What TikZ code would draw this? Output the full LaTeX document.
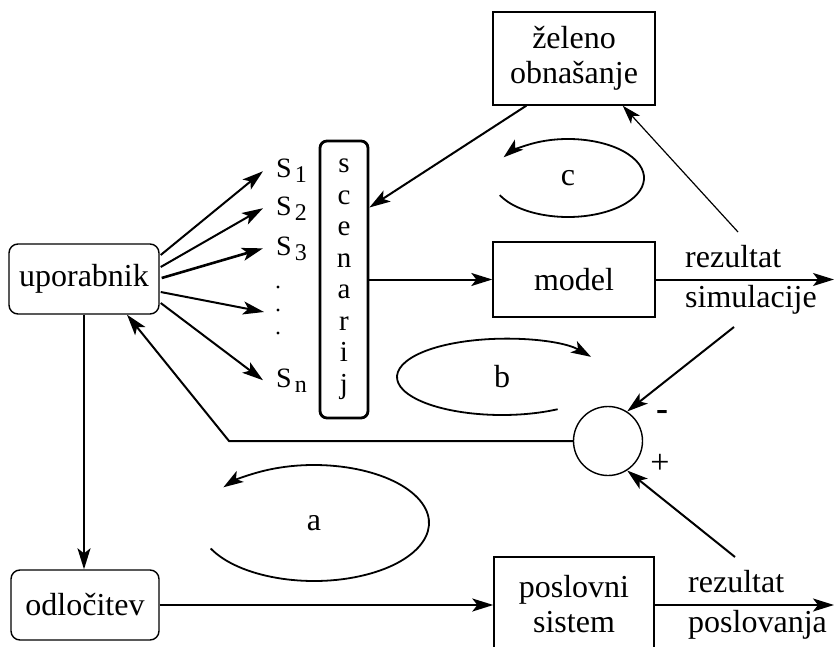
\documentclass[tikz,border=0pt]{standalone}
\usepackage{fontspec}
\setmainfont{Liberation Serif}
\usetikzlibrary{arrows.meta,calc}
\begin{document}
\begin{tikzpicture}[x=1pt,y=-1pt,
  every node/.style={font=\fontsize{32}{35}\selectfont, inner sep=0pt},
  blok/.style={draw, line width=1.4pt},
  zaobljen/.style={blok, rounded corners=9pt},
  tip/.style={-{Stealth[length=21pt,width=13pt,inset=5pt]}},
  conn/.style={tip, line width=2pt},
  tanka/.style={-{Stealth[length=19pt,width=12pt,inset=5pt]}, line width=1.2pt},
  zanka/.style={-{Stealth[length=20pt,width=13pt,inset=5pt]}, line width=1.8pt},
  snode/.style={anchor=base west, inner xsep=13pt, font=\fontsize{28}{30}\selectfont},
  napis/.style={anchor=base west}
]
\useasboundingbox (0,0) rectangle (835,647);
\clip (0,0) rectangle (835,647);

% blocks
\node[zaobljen, minimum width=150, minimum height=70] (upor) at (84,279) {uporabnik};
\node[zaobljen, minimum width=148, minimum height=70] (odl) at (85,605) {odločitev};
\node[blok, line width=2.8pt, rounded corners=7pt, minimum width=48, minimum height=277,
      align=center, font=\fontsize{29}{31.5}\selectfont] (scen) at (344,279.5)
      {s\\c\\e\\n\\a\\r\\i\\j};
\node[blok, minimum width=162, minimum height=93, align=center] (zel) at (574,58.5) {želeno\\obnašanje};
\node[blok, minimum width=162, minimum height=75] (model) at (574,279.5) {model};
\node[blok, minimum width=160, minimum height=94, align=center] (posl) at (574,604) {poslovni\\sistem};
\node[draw, circle, line width=1.4pt, minimum size=69] (sum) at (608,441) {};
\node[font=\fontsize{36}{36}\bfseries] (minus) at (662,415) {-};
\node[font=\fontsize{34}{36}\selectfont] (plus) at (660,464) {+};

% scenario labels
\node[snode] (s1) at (263,178) {S\kern3pt\raisebox{-5pt}{\fontsize{24}{24}\selectfont 1}};
\node[snode] (s2) at (263,215) {S\kern3pt\raisebox{-5pt}{\fontsize{24}{24}\selectfont 2}};
\node[snode] (s3) at (263,255) {S\kern3pt\raisebox{-5pt}{\fontsize{24}{24}\selectfont 3}};
\node[snode] (sn) at (263,387) {S\kern3pt\raisebox{-5pt}{\fontsize{24}{24}\selectfont n}};
% vertical ellipsis between S3 and Sn
\coordinate (dots) at (278,310);
\foreach \dy in {-23,0,23} \fill ($(dots)+(0,\dy)$) circle (1.6);

% output labels
\node[napis] (rs1) at (685,267) {rezultat};
\node[napis] (rs2) at (685,307) {simulacije};
\node[napis] (rp1) at (688,592) {rezultat};
\node[napis] (rp2) at (688,632) {poslovanja};

% loop labels
\node (lc) at (568,178) {c};
\node (lb) at (502,377) {b};
\node (la) at (314,523) {a};

% user to scenarios
\draw[conn] ($(upor.east)+(1,-24)$) -- (s1.west);
\draw[conn] ($(upor.east)+(1,-12)$) -- (s2.west);
\draw[conn, line width=2.6pt] ($(upor.east)+(2,-1)$) -- (s3.west);
\draw[conn] ($(upor.east)+(1,13)$) -- ($(dots)+(-14,2)$);
\draw[conn] ($(upor.east)+(1,24)$) -- (sn.west);

% main flow
\draw[conn] (scen.east) -- (model.west);
\draw[conn] ($(zel.south west)+(34,0)$) -- ($(scen.east)+(0,-72)$);
\coordinate (o1) at (834,279.5);
\draw[conn] (model.east) -- (o1);
\coordinate (simtop) at (738,232);
\draw[tanka] (simtop) -- ($(zel.south east)+(-33,0)$);
\coordinate (simbot) at (734,327);
\draw[conn] (simbot) -- (sum.57);
\coordinate (posltop) at (735,557);
\draw[conn] (posltop) -- (sum.-57);
\coordinate (fb) at (229,441);
\draw[conn] (sum.west) -- (fb) -- ($(upor.south)+(43,0)$);
\draw[conn] (upor.south) -- (upor.south |- odl.north);
\draw[conn] (odl.east) -- (odl.east -| posl.west);
\coordinate (o2) at (834,605);
\draw[conn] (posl.east |- odl.east) -- (o2 |- odl.east);

% loops
\draw[zanka] ([shift={(154:76 and 39)}]lc.center) arc[start angle=154, end angle=-148, x radius=76, y radius=39];
\draw[zanka] ([shift={(58:105 and 38)}]lb.center) arc[start angle=58, end angle=328, x radius=105, y radius=38];
\draw[zanka] ([shift={(154:115 and 58)}]la.center) arc[start angle=154, end angle=-142, x radius=115, y radius=58];
\end{tikzpicture}
\end{document}
